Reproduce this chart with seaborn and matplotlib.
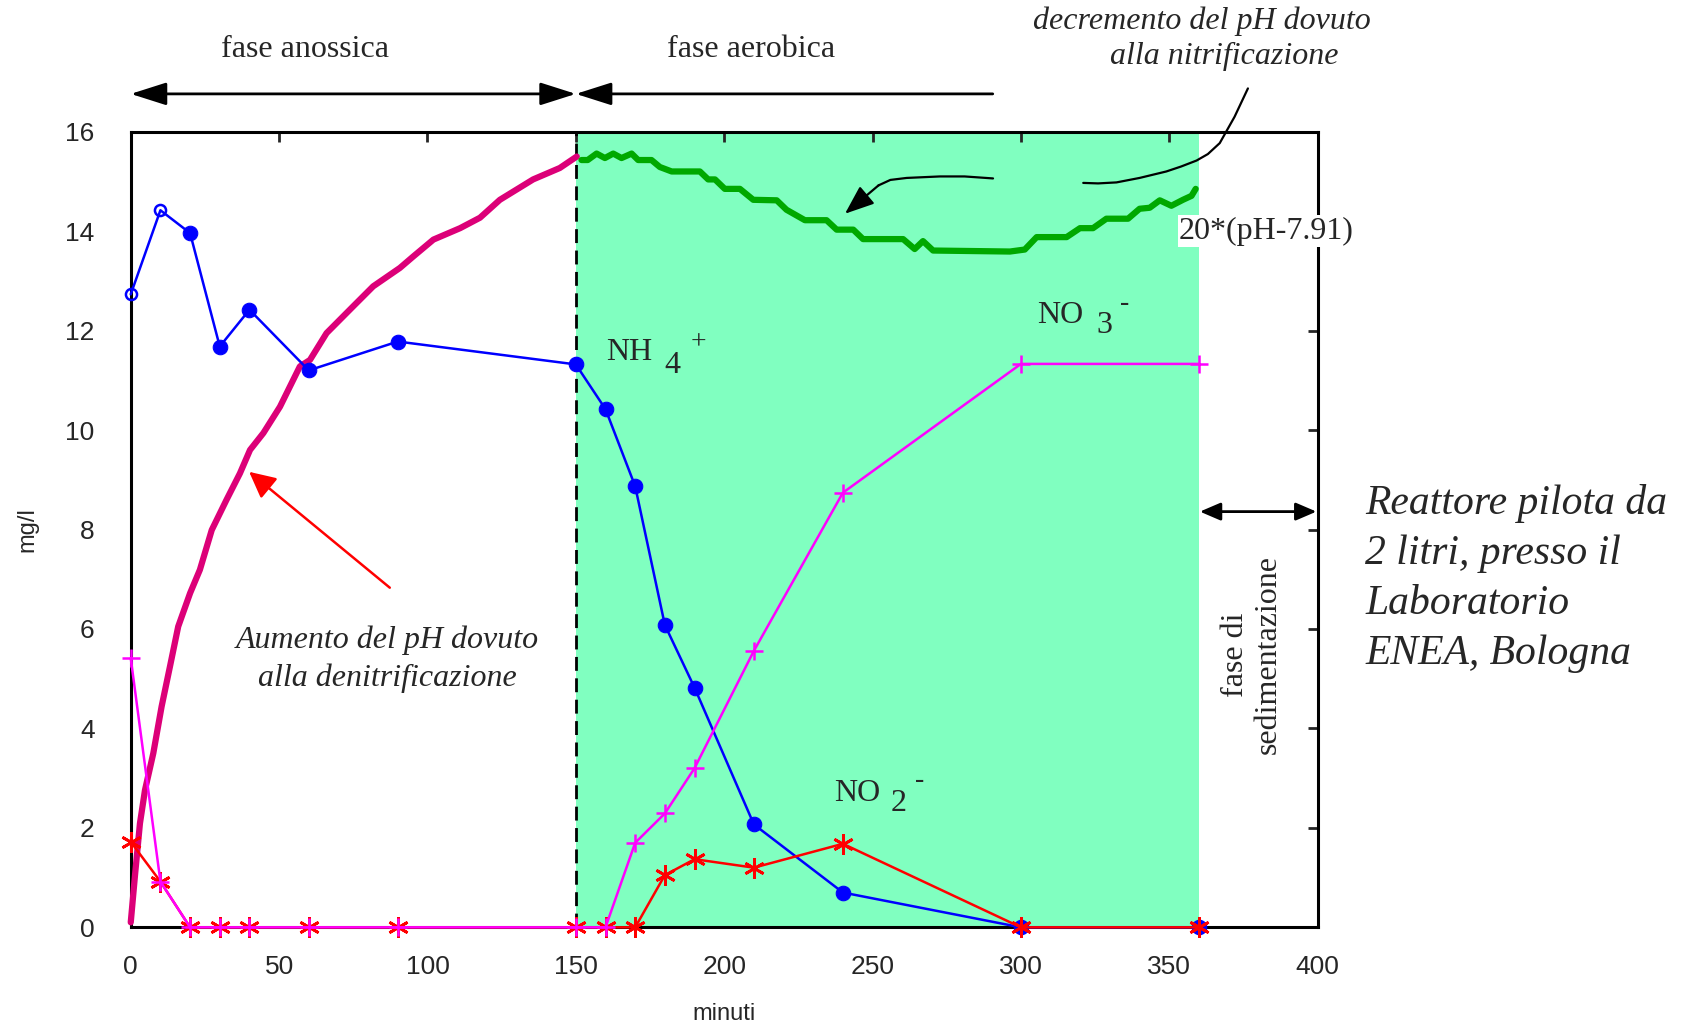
import matplotlib
matplotlib.use('Agg')
import matplotlib.pyplot as plt
import seaborn as sns

# tempi di campionamento (minuti) e concentrazioni (mg/l)
t_camp = [0, 10, 20, 30, 40, 60, 90, 150, 160, 170, 180, 190, 210, 240, 300, 360]
nh4 = [12.73, 14.42, 13.96, 11.68, 12.42, 11.2, 11.78, 11.32, 10.42, 8.87, 6.08, 4.82, 2.07, 0.70, 0, 0]
no3 = [5.41, 0.92, 0, 0, 0, 0, 0, 0, 0, 1.70, 2.29, 3.20, 5.56, 8.74, 11.33, 11.33]
no2 = [1.72, 0.92, 0, 0, 0, 0, 0, 0, 0, 0, 1.05, 1.37, 1.20, 1.68, 0, 0]

# 20*(pH-7.91), fase anossica
t_ph_anox = [0, 1.5, 3.1, 4.8, 7.6, 10.4, 13.2, 16, 20, 23.3, 27.3, 32.3, 36.8, 40.2, 44.7, 50.3,
             57, 60.4, 66, 75, 81.7, 90.7, 95.2, 102, 111, 117.7, 124.4, 135.6, 144.6, 150.3]
ph_anox = [0.1, 1.09, 2.09, 2.76, 3.5, 4.44, 5.24, 6.05, 6.72, 7.19, 7.99, 8.6, 9.13, 9.6, 9.94, 10.47,
           11.28, 11.41, 11.95, 12.49, 12.89, 13.26, 13.49, 13.83, 14.06, 14.27, 14.63, 15.04, 15.27, 15.5]

# 20*(pH-7.91), fase aerobica
t_ph_aer = [151.9, 154, 157, 159.8, 162.6, 165.4, 168.8, 171, 175.5, 178.3, 182.3, 191.8, 194.6, 196.9,
            200.2, 205.3, 209.8, 217.7, 221, 227.2, 234.5, 237.9, 243.5, 246.8, 260.3, 264.2, 267, 270.4,
            296.3, 301.3, 305.3, 315.4, 319.9, 324.3, 328.8, 336.1, 340, 343.4, 346.8, 350.7, 354.6,
            357.5, 358.9]
ph_aer = [15.43, 15.43, 15.56, 15.47, 15.56, 15.47, 15.56, 15.43, 15.43, 15.29, 15.2, 15.2, 15.04, 15.04,
          14.85, 14.85, 14.63, 14.62, 14.43, 14.22, 14.22, 14.03, 14.03, 13.84, 13.84, 13.64, 13.8, 13.61,
          13.59, 13.63, 13.88, 13.88, 14.06, 14.06, 14.25, 14.25, 14.45, 14.47, 14.62, 14.51, 14.63,
          14.71, 14.85]

sns.set_style('white')
plt.rcParams['font.family'] = ['Liberation Sans', 'DejaVu Sans']
serif = ['Liberation Serif', 'DejaVu Serif']

fig = plt.figure(figsize=(16.98, 10.24), dpi=100)
ax = fig.add_axes([0.077, 0.0944, 0.699, 0.777])

# fase aerobica evidenziata
ax.axvspan(150, 360, color='#80ffc0', zorder=0, lw=0)
ax.axvline(150, color='black', ls=(0, (5, 2.7)), lw=2, zorder=2)

# pH
sns.lineplot(x=t_ph_anox, y=ph_anox, ax=ax, color='#dc0078', lw=4.5, sort=False, estimator=None,
             clip_on=False, zorder=3)
sns.lineplot(x=t_ph_aer, y=ph_aer, ax=ax, color='#00a800', lw=4.5, sort=False, estimator=None,
             clip_on=False, zorder=3)

# NH4+
sns.lineplot(x=t_camp, y=nh4, ax=ax, color='#0000ff', lw=1.8, marker='o', ms=10.5, mec='#0000ff',
             markevery=list(range(2, len(t_camp))), sort=False, estimator=None, clip_on=False, zorder=4)
ax.plot(t_camp[:2], nh4[:2], ls='', marker='o', ms=8, mfc='none', mec='#0000ff', mew=1.8,
        clip_on=False, zorder=4)
# NO2-
sns.lineplot(x=t_camp, y=no2, ax=ax, color='#ff0000', lw=1.8, marker=(6, 2, 0), ms=15, mew=2,
             mec='#ff0000', sort=False, estimator=None, clip_on=False, zorder=5)
# NO3-
sns.lineplot(x=t_camp, y=no3, ax=ax, color='#ff00ff', lw=1.8, marker='+', ms=13, mew=1.8,
             mec='#ff00ff', sort=False, estimator=None, clip_on=False, zorder=6)

ax.set_xlim(0, 400)
ax.set_ylim(0, 16)
ax.set_xticks(range(0, 401, 50))
ax.set_yticks(range(0, 17, 2))
for s in ax.spines.values():
    s.set_linewidth(2.2)
    s.set_color('black')
    s.set_zorder(2.5)
ax.tick_params(direction='in', length=7, width=2, top=True, right=True, labelsize=19)
ax.tick_params(axis='x', pad=20)
ax.tick_params(axis='y', pad=26)
ax.set_xlabel('minuti', fontsize=17)
ax.set_ylabel('mg/l', fontsize=17)
ax.xaxis.set_label_coords(0.5, -0.095)
ax.yaxis.set_label_coords(-0.078, 0.5)

# etichette delle specie
tf = dict(family=serif, fontsize=23, va='center')
ax.text(160.3, 11.55, 'NH', ha='left', **tf)
ax.text(182.5, 11.3, '4', ha='center', **tf)
ax.text(191.3, 11.75, '+', ha='center', family=serif, fontsize=20, va='center')
ax.text(305.4, 12.3, 'NO', ha='left', **tf)
ax.text(328, 12.1, '3', ha='center', **tf)
ax.text(335, 12.55, '-', ha='center', family=serif, fontsize=20, va='center')
ax.text(237, 2.7, 'NO', ha='left', **tf)
ax.text(258.8, 2.49, '2', ha='center', **tf)
ax.text(266, 2.95, '-', ha='center', family=serif, fontsize=20, va='center')
ax.text(353.3, 14.0, '20*(pH-7.91)', ha='left', family=serif, fontsize=23, va='center',
        bbox=dict(facecolor='white', edgecolor='none', pad=1), zorder=7)

# fasi
big = dict(arrowstyle='<|-|>,head_length=1.1,head_width=0.35', mutation_scale=20, color='black',
           lw=2, shrinkA=0, shrinkB=0)
ax.annotate('', xy=(0, 16.76), xytext=(150, 16.76), arrowprops=big, annotation_clip=False)
half = dict(big)
half['arrowstyle'] = '-|>,head_length=1.1,head_width=0.35'
ax.annotate('', xy=(150, 16.76), xytext=(290.5, 16.76), arrowprops=half, annotation_clip=False)
ax.text(58.7, 17.65, 'fase anossica', ha='center', family=serif, fontsize=23, va='center')
ax.text(209.2, 17.65, 'fase aerobica', ha='center', family=serif, fontsize=23, va='center')

sed = dict(arrowstyle='<|-|>,head_length=0.7,head_width=0.3', mutation_scale=18, color='black',
           lw=2, shrinkA=0, shrinkB=0)
ax.annotate('', xy=(360.3, 8.36), xytext=(399.6, 8.36), arrowprops=sed, annotation_clip=False)
ax.text(377.9, 5.48, 'fase di\nsedimentazione', ha='center', va='center', rotation=90,
        family=serif, fontsize=23, multialignment='center', linespacing=1.15)

# annotazioni pH
ax.text(86.6, 5.78, 'Aumento del pH dovuto', ha='center', va='center', family=serif,
        style='italic', fontsize=23)
ax.text(86.6, 5.0, 'alla denitrificazione', ha='center', va='center', family=serif,
        style='italic', fontsize=23)
ax.annotate('', xy=(39.9, 9.16), xytext=(87.3, 6.83),
            arrowprops=dict(arrowstyle='-|>,head_length=0.8,head_width=0.4', mutation_scale=20,
                            color='#ff0000', lw=1.8, shrinkA=0, shrinkB=0))

ax.text(361.1, 18.22, 'decremento del pH dovuto', ha='center', va='center', family=serif,
        style='italic', fontsize=23)
ax.text(368.4, 17.51, 'alla nitrificazione', ha='center', va='center', family=serif,
        style='italic', fontsize=23)
ax.plot([376.5, 372, 367, 363, 359.2, 354, 349, 340, 332.2, 326, 321],
        [16.87, 16.3, 15.77, 15.55, 15.42, 15.3, 15.2, 15.07, 14.98, 14.96, 14.97],
        color='black', lw=1.6, clip_on=False, zorder=7)
ax.plot([290.6, 281, 272.7, 261.5, 256, 252],
        [15.06, 15.1, 15.1, 15.07, 15.03, 14.92], color='black', lw=1.6, zorder=7)
ax.annotate('', xy=(240.7, 14.35), xytext=(252, 14.92),
            arrowprops=dict(arrowstyle='-|>,head_length=0.9,head_width=0.35', mutation_scale=20,
                            color='black', lw=1.6, shrinkA=0, shrinkB=0), zorder=7)

# nota sul reattore
note = ['Reattore pilota da', '2 litri, presso il', 'Laboratorio', 'ENEA, Bologna']
for i, riga in enumerate(note):
    fig.text(0.8039, 0.508 - i * 0.0488, riga, ha='left', va='center', family=serif,
             style='italic', fontsize=30)

fig.savefig('out.png', dpi=100)
